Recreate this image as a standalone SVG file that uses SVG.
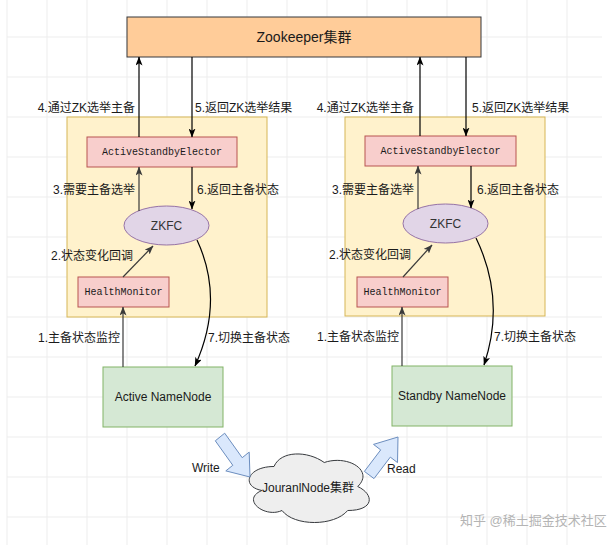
<svg xmlns="http://www.w3.org/2000/svg" width="608" height="545" viewBox="0 0 608 545">
<style>
.grid{stroke:#ededed;stroke-width:1;fill:none}
.t{font-family:"Liberation Sans","Noto Sans CJK SC",Arial,sans-serif;font-size:12px;fill:#1a1a1a;dominant-baseline:central}
.mono{font-family:"Liberation Mono","Courier New",monospace;font-size:10px;fill:#1a1a1a;dominant-baseline:central;text-anchor:middle}
.mid{text-anchor:middle}
.end{text-anchor:end}
.cont{fill:#fff2cc;stroke:#d6b656}
.red{fill:#f8cecc;stroke:#b85450}
.green{fill:#d5e8d4;stroke:#82b366}
.ell{fill:#e1d5e7;stroke:#9673a6}
.conn{fill:none;stroke:#000;stroke-width:1.2;marker-end:url(#ah)}
.conn2{fill:none;stroke:#3a3a3a;stroke-width:1.2;marker-end:url(#ah2)}
.block{fill:#dae8fc;stroke:#6c8ebf;stroke-width:1}
</style>
<defs>
<marker id="ah" viewBox="0 0 9 7" refX="8.5" refY="3.5" markerWidth="9" markerHeight="7" markerUnits="userSpaceOnUse" orient="auto">
<path d="M0,0 L9,3.5 L0,7 L2.2,3.5 Z" fill="#000"/>
</marker>
<marker id="ah2" viewBox="0 0 9 7" refX="8.5" refY="3.5" markerWidth="9" markerHeight="7" markerUnits="userSpaceOnUse" orient="auto">
<path d="M0,0 L9,3.5 L0,7 L2.2,3.5 Z" fill="#3a3a3a"/>
</marker>
</defs>
<rect width="608" height="545" fill="#fff"/>
<g id="grid" class="grid">
<path d="M7,0V545M47,0V545M87,0V545M127,0V545M167,0V545M207,0V545M247,0V545M287,0V545M327,0V545M367,0V545M407,0V545M447,0V545M487,0V545M527,0V545M567,0V545"/>
<path d="M7,37H602M7,77H602M7,117H602M7,157H602M7,197H602M7,237H602M7,277H602M7,317H602M7,357H602M7,397H602M7,437H602M7,477H602M7,517H602"/>
</g>
<g id="zookeeper">
<rect x="127" y="17" width="354" height="40" fill="#ffcc99" stroke="#36393d"/>
<text class="t mid" x="304" y="37" style="font-size:14px">Zookeeper集群</text>
</g>
<g id="left-container"><rect class="cont" x="67" y="117" width="200" height="200"/></g>
<g id="right-container"><rect class="cont" x="345" y="117" width="200" height="199"/></g>
<g id="left-elector">
<rect class="red" x="87" y="137" width="150" height="30"/>
<text class="mono" x="162" y="152">ActiveStandbyElector</text>
</g>
<g id="right-elector">
<rect class="red" x="365" y="136" width="151" height="30"/>
<text class="mono" x="440.5" y="151">ActiveStandbyElector</text>
</g>
<g id="left-zkfc">
<ellipse class="ell" cx="166.5" cy="225.5" rx="42.5" ry="19.5"/>
<text class="t mid" x="166.5" y="225.5" style="fill:#333">ZKFC</text>
</g>
<g id="right-zkfc">
<ellipse class="ell" cx="445.5" cy="223.5" rx="42.5" ry="19.5"/>
<text class="t mid" x="445.5" y="223.5" style="fill:#333">ZKFC</text>
</g>
<g id="left-health">
<rect class="red" x="78" y="277" width="91" height="30"/>
<text class="mono" x="123.5" y="292">HealthMonitor</text>
</g>
<g id="right-health">
<rect class="red" x="357" y="277" width="91" height="30"/>
<text class="mono" x="402.5" y="292">HealthMonitor</text>
</g>
<g id="active-namenode">
<rect class="green" x="103" y="367" width="120" height="60"/>
<text class="t mid" x="163" y="397">Active NameNode</text>
</g>
<g id="standby-namenode">
<rect class="green" x="392" y="366" width="120" height="60"/>
<text class="t mid" x="452" y="396">Standby NameNode</text>
</g>
<g id="journalnode">
<path d="M274,466.5 C247.2,466.5 240.5,486.5 261.9,490.5 C240.5,499.3 264.6,518.5 282,510.5 C294.1,526.5 334.3,526.5 347.7,510.5 C374.5,510.5 374.5,494.5 357.75,486.5 C374.5,470.5 347.7,454.5 324.25,462.5 C307.5,450.5 280.7,450.5 274,466.5 Z" fill="#eeeeee" stroke="#36393d"/>
<text class="t mid" x="308" y="488">JouranlNode集群</text>
</g>
<g id="connectors">
<line class="conn" x1="139" y1="137" x2="139" y2="57"/>
<line class="conn" x1="192" y1="57" x2="192" y2="137"/>
<line class="conn2" x1="139" y1="211" x2="139" y2="167"/>
<line class="conn" x1="192" y1="167" x2="192" y2="209"/>
<line class="conn2" x1="123" y1="277" x2="153" y2="246"/>
<line class="conn2" x1="123" y1="367" x2="123" y2="307"/>
<path class="conn" d="M197,240 Q225,300 195,366"/>
<line class="conn" x1="420" y1="136" x2="420" y2="57"/>
<line class="conn" x1="466" y1="57" x2="466" y2="136"/>
<line class="conn2" x1="418" y1="209" x2="418" y2="166"/>
<line class="conn" x1="471" y1="166" x2="471" y2="208"/>
<line class="conn2" x1="403" y1="277" x2="432" y2="245"/>
<line class="conn2" x1="402" y1="366" x2="402" y2="307"/>
<path class="conn" d="M476,238 Q506,300 484,365"/>
<polygon class="block" points="224.7,433.2 242.2,457.7 249.2,452.1 250,477 225.8,470.9 232.8,465.3 215.3,440.8"/>
<polygon class="block" points="374,478.6 390.3,457.1 397.5,462.6 398,437 373.5,444.4 380.7,449.9 364.4,471.4"/>
</g>
<g id="labels">
<text class="t end" x="135" y="108">4.通过ZK选举主备</text>
<text class="t" x="195" y="108">5.返回ZK选举结果</text>
<text class="t end" x="135" y="190">3.需要主备选举</text>
<text class="t" x="197" y="190">6.返回主备状态</text>
<text class="t end" x="133" y="256">2.状态变化回调</text>
<text class="t end" x="120" y="338">1.主备状态监控</text>
<text class="t" x="208" y="338">7.切换主备状态</text>
<text class="t end" x="414" y="108">4.通过ZK选举主备</text>
<text class="t" x="472" y="108">5.返回ZK选举结果</text>
<text class="t end" x="414" y="190">3.需要主备选举</text>
<text class="t" x="477" y="190">6.返回主备状态</text>
<text class="t end" x="411" y="255">2.状态变化回调</text>
<text class="t end" x="399" y="337">1.主备状态监控</text>
<text class="t" x="494" y="337">7.切换主备状态</text>
<text class="t" x="192" y="468">Write</text>
<text class="t" x="387" y="469">Read</text>
<text class="t" x="460" y="520" style="font-size:13px;fill:#b4b4b4">知乎 @稀土掘金技术社区</text>
</g>
</svg>
